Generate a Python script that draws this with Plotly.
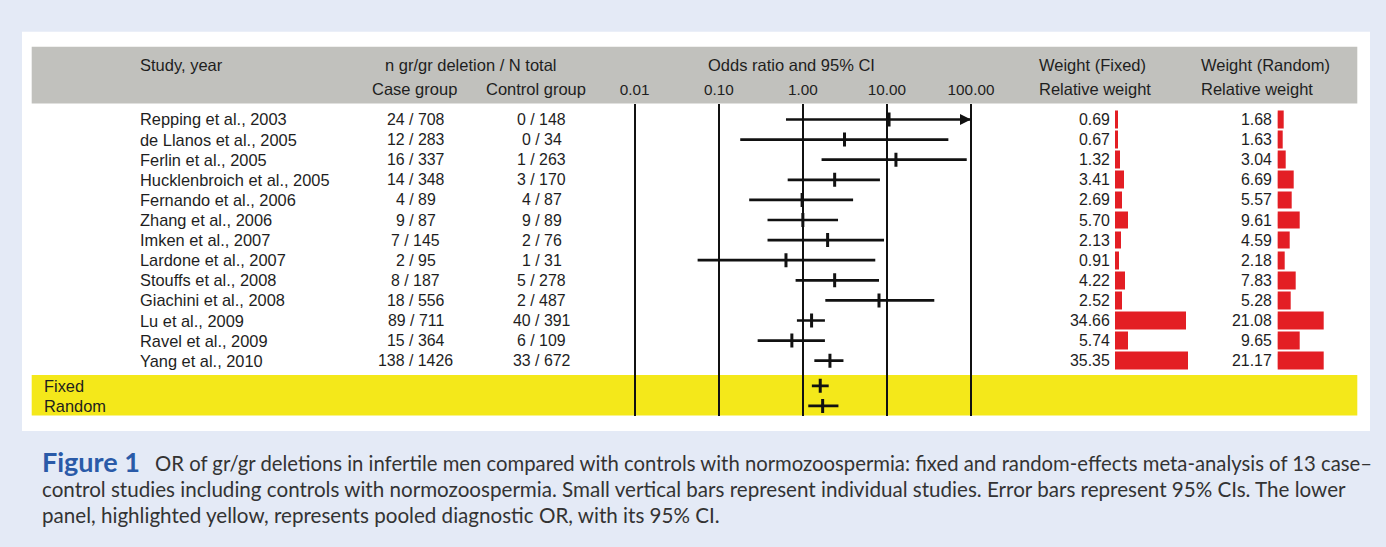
import plotly.graph_objects as go

# ---------------- data ----------------
studies = ["Repping et al., 2003", "de Llanos et al., 2005", "Ferlin et al., 2005",
           "Hucklenbroich et al., 2005", "Fernando et al., 2006", "Zhang et al., 2006",
           "Imken et al., 2007", "Lardone et al., 2007", "Stouffs et al., 2008",
           "Giachini et al., 2008", "Lu et al., 2009", "Ravel et al., 2009", "Yang et al., 2010"]
case_n = [24, 12, 16, 14, 4, 9, 7, 2, 8, 18, 89, 15, 138]
case_N = [708, 283, 337, 348, 89, 87, 145, 95, 187, 556, 711, 364, 1426]
ctrl_n = [0, 0, 1, 3, 4, 9, 2, 1, 5, 2, 40, 6, 33]
ctrl_N = [148, 34, 263, 170, 87, 89, 76, 31, 278, 487, 391, 109, 672]
odds = [10.6, 3.13, 12.8, 2.39, 0.98, 1.0, 1.97, 0.63, 2.39, 8.05, 1.27, 0.74, 2.10]
ci_lo = [0.63, 0.18, 1.67, 0.66, 0.23, 0.38, 0.38, 0.056, 0.82, 1.85, 0.85, 0.29, 1.37]
ci_hi = [175, 53.8, 89, 8.26, 3.96, 2.62, 9.23, 7.27, 8.05, 36.6, 1.83, 1.83, 3.04]
w_fixed = [0.69, 0.67, 1.32, 3.41, 2.69, 5.70, 2.13, 0.91, 4.22, 2.52, 34.66, 5.74, 35.35]
w_random = [1.68, 1.63, 3.04, 6.69, 5.57, 9.61, 4.59, 2.18, 7.83, 5.28, 21.08, 9.65, 21.17]
pooled_labels = ["Fixed", "Random"]
pooled_or = [1.61, 1.72]
pooled_lo = [1.28, 1.16]
pooled_hi = [2.03, 2.65]
tick_vals = [0.01, 0.1, 1, 10, 100]
tick_text = ["0.01", "0.10", "1.00", "10.00", "100.00"]

# ---------------- layout helpers ----------------
W, H = 1386, 547
def px(x):
    return x / W
def py(y):
    return 1 - y / H

FONT = "Liberation Sans, Arial, sans-serif"
TXT = "#1e1e1e"
RED = "#e31e24"
BG = "#e4eaf6"
OR_MAX = 100  # display limit of the OR axis

n = len(studies)
rows = list(range(1, n + 1))
gap = 0.25
prow = [n + gap + 1 + i for i in range(len(pooled_labels))]

fig = go.Figure()

# CI lines
xs, ys = [], []
for r, lo, hi in zip(rows, ci_lo, ci_hi):
    xs += [lo, min(hi, OR_MAX), None]
    ys += [r, r, None]
for r, lo, hi in zip(prow, pooled_lo, pooled_hi):
    xs += [lo, hi, None]
    ys += [r, r, None]
fig.add_trace(go.Scatter(x=xs, y=ys, mode="lines", line=dict(color="#111", width=2.7),
                         hoverinfo="skip", showlegend=False))
# arrows where CI exceeds display limit
ax = [OR_MAX for h in ci_hi if h > OR_MAX]
ay = [r for r, h in zip(rows, ci_hi) if h > OR_MAX]
fig.add_trace(go.Scatter(x=ax, y=ay, mode="markers",
                         marker=dict(symbol="arrow-right", size=11, color="#111"),
                         hoverinfo="skip", showlegend=False))
# point estimates
fig.add_trace(go.Scatter(x=odds + pooled_or, y=rows + prow, mode="markers",
                         marker=dict(symbol="line-ns", size=10, color="#111",
                                     line=dict(color="#111", width=3)),
                         showlegend=False))

# weight bars
fig.add_trace(go.Bar(x=w_fixed, y=rows, orientation="h", xaxis="x2", yaxis="y",
                     width=0.68, marker=dict(color=RED, line=dict(color=RED, width=4)),
                     showlegend=False))
fig.add_trace(go.Bar(x=w_random, y=rows, orientation="h", xaxis="x3", yaxis="y",
                     width=0.68, marker=dict(color=RED, line=dict(color=RED, width=4)),
                     showlegend=False))

y_top, y_bot = 103.5, 415.5
row_px = 20.1
row1_px = 119.5
yr_top = 1 - (row1_px - y_top) / row_px
yr_bot = 1 + (y_bot - row1_px) / row_px

dec = 84.07
fig.update_layout(
    width=W, height=H, margin=dict(l=0, r=0, t=0, b=0),
    paper_bgcolor=BG, plot_bgcolor="rgba(0,0,0,0)",
    bargap=0,
    xaxis=dict(domain=[px(600), px(1000)], type="log",
               range=[-2 - (634.7 - 600) / dec, 2 + (1000 - 971) / dec],
               tickvals=tick_vals, ticktext=tick_text, side="top",
               showgrid=True, gridcolor="#111", gridwidth=1.6, zeroline=False,
               showline=False, ticks="", tickfont=dict(family=FONT, size=15.3, color=TXT),
               ticklabelstandoff=4, anchor="y"),
    xaxis2=dict(domain=[px(1115), px(1215)], range=[0, 50], visible=False, anchor="y"),
    xaxis3=dict(domain=[px(1277.7), px(1377.7)], range=[0, 100 / 2.1], visible=False, anchor="y"),
    yaxis=dict(domain=[py(y_bot), py(y_top)], range=[yr_bot, yr_top], visible=False),
)

shapes = [
    dict(type="rect", xref="paper", yref="paper", x0=px(22), x1=px(1370), y0=py(431), y1=py(31.7),
         fillcolor="white", line=dict(width=0), layer="below"),
    dict(type="rect", xref="paper", yref="paper", x0=px(31.7), x1=px(1357.3), y0=py(103.5), y1=py(46.7),
         fillcolor="#c1c1bd", line=dict(width=0), layer="below"),
    dict(type="rect", xref="paper", yref="paper", x0=px(31.7), x1=px(1357.3), y0=py(415.5), y1=py(375),
         fillcolor="#f4e81a", line=dict(width=0), layer="below"),
]
fig.update_layout(shapes=shapes)

ann = []
def add(text, x, y, xanchor="left", yref="paper", size=15, color=TXT, family=FONT):
    ann.append(dict(text=text, x=px(x), y=(py(y) if yref == "paper" else y), xref="paper", yref=yref,
                    xanchor=xanchor, yanchor="middle", showarrow=False,
                    font=dict(family=family, size=size, color=color)))

HS = 16.5
# header
add("Study, year", 137.5, 65, size=HS)
add("n gr/gr deletion / N total", 471, 65, "center", size=HS)
add("Case group", 414, 89, "center", size=HS)
add("Control group", 536, 89, "center", size=HS)
add("Odds ratio and 95% CI", 791.7, 65, "center", size=HS)
add("Weight (Fixed)", 1037, 65, size=HS)
add("Relative weight", 1037, 89, size=HS)
add("Weight (Random)", 1199, 65, size=HS)
add("Relative weight", 1199, 89, size=HS)

NS = 15.9
for r, s, a, b, c, d, wf, wr in zip(rows, studies, case_n, case_N, ctrl_n, ctrl_N, w_fixed, w_random):
    add(s, 137.5, r, yref="y", size=16.4)
    add(f"{a} / {b}", 415.5, r, "center", yref="y", size=NS)
    add(f"{c} / {d}", 541.5, r, "center", yref="y", size=NS)
    add(f"{wf:.2f}", 1112, r, "right", yref="y", size=NS)
    add(f"{wr:.2f}", 1274, r, "right", yref="y", size=NS)
for r, lab in zip(prow, pooled_labels):
    add(lab, 42, r, yref="y", size=16.4)

# caption
CAP = "Lato, sans-serif"
add("<b>Figure 1</b>", 40, 461, size=27, color="#2a5aa8", family=CAP)
add("OR of gr/gr deletions in infertile men compared with controls with normozoospermia: "
    "fixed and random-effects meta-analysis of 13 case–", 153, 463, size=20.3, color="#333", family=CAP)
add("control studies including controls with normozoospermia. Small vertical bars represent "
    "individual studies. Error bars represent 95% CIs. The lower", 40, 489, size=20.6, color="#333", family=CAP)
add("panel, highlighted yellow, represents pooled diagnostic OR, with its 95% CI.", 40, 515,
    size=20.6, color="#333", family=CAP)

fig.update_layout(annotations=ann)
fig.write_html("out.html", config={"displayModeBar": False},
               post_script="document.body.style.margin='0';document.body.style.background='" + BG + "';")
